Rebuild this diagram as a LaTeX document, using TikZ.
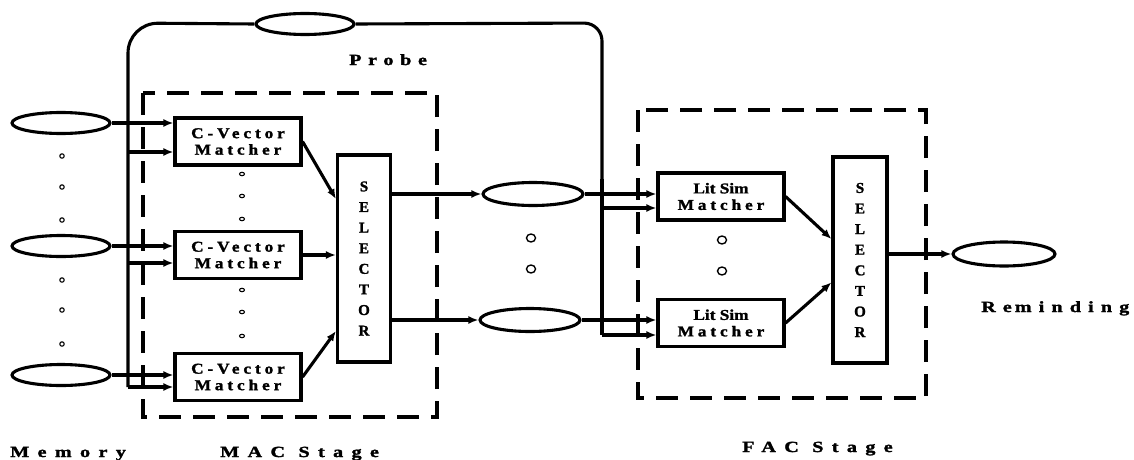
\documentclass[tikz,border=0pt]{standalone}
\usepackage{fontspec}
\setmainfont{Liberation Serif}[BoldFont={Liberation Serif Bold}]
\newfontfamily\fbold{Liberation Serif Bold}[FakeBold=1.5]
\newfontfamily\flit{Liberation Serif Bold}[FakeBold=1.5,FakeStretch=1.15]
\newfontfamily\fsp{Liberation Serif Bold}[LetterSpace=26,FakeBold=1.5,FakeStretch=1.15]
\newfontfamily\flb{Liberation Serif Bold}[LetterSpace=54,FakeBold=1.8,FakeStretch=1.3]
\newfontfamily\flp{Liberation Serif Bold}[LetterSpace=43,FakeBold=1.8,FakeStretch=1.3]
\newfontfamily\flr{Liberation Serif Bold}[LetterSpace=46,FakeBold=1.8,FakeStretch=1.3]
\usetikzlibrary{shapes.geometric,arrows.meta,calc}
\begin{document}
\begin{tikzpicture}[x=1pt,y=-1pt,
  wire/.style={line width=3.1pt},
  arr/.style={line width=3.1pt,-{Latex[length=10pt,width=8pt]}},
  oval/.style={ellipse,draw,line width=3.1pt,minimum width=98pt,minimum height=21pt,inner sep=0pt},
  matcher/.style={rectangle,draw,line width=3.1pt,minimum width=126pt,minimum height=47pt,inner sep=0pt,align=center,font=\fsp\fontsize{15}{16.5}\selectfont},
  selbox/.style={rectangle,draw,line width=3.1pt,minimum width=53pt,minimum height=207pt,inner sep=0pt,align=center,font=\fbold\fontsize{15}{20.6}\selectfont},
  stagebox/.style={line width=3.8pt,dash pattern=on 22pt off 12pt},
  lbl/.style={anchor=base west,inner sep=0pt,font=\flb\fontsize{15.5}{18}\selectfont},
  smalldot/.style={line width=1.1pt},
  bigdot/.style={line width=1.4pt}]
\useasboundingbox (0,0) rectangle (1134,460);

% stage boxes
\draw[stagebox] (143,93) rectangle (437,417);
\draw[stagebox] (638,110) rectangle (926,398);

% memory ellipses
\node[oval] (m1) at (61,123) {};
\node[oval] (m2) at (61,246) {};
\node[oval] (m3) at (61,375) {};
\foreach \y in {156,187,220,280,310,344} \draw[smalldot] (62,\y) circle (2.2pt);

% probe
\node[oval] (probe) at (305,24) {};
\node[lbl,font=\flp\fontsize{15.5}{18}\selectfont] (probelbl) at (349,65) {Probe};

% C-Vector matchers
\node[matcher] (cv1) at (238,141.5) {C-Vector\\Matcher};
\node[matcher] (cv2) at (238,255) {C-Vector\\Matcher};
\node[matcher] (cv3) at (238,377) {C-Vector\\Matcher};
\foreach \y in {174,196,219,290,312,336} \draw[smalldot] (242,\y) ellipse (2.5pt and 1.7pt);

% selector 1
\node[selbox] (sel1) at (364,258.5) {S\\E\\L\\E\\C\\T\\O\\R};

% middle ellipses
\node[oval,minimum width=100pt,minimum height=23pt] (mid1) at (533,194) {};
\node[oval,minimum width=100pt,minimum height=23pt] (mid2) at (530,320) {};
\foreach \y in {238,269} \draw[bigdot] (531,\y) ellipse (4.5pt and 4pt);

% Lit Sim matchers
\node[matcher] (ls1) at (721,196.5) {{\flit\fontsize{15}{16.5}\selectfont Lit Sim}\\Matcher};
\node[matcher] (ls2) at (721,323) {{\flit\fontsize{15}{16.5}\selectfont Lit Sim}\\Matcher};
\foreach \y in {240,271} \draw[bigdot] (722,\y) ellipse (4.5pt and 4pt);

% selector 2
\node[selbox,minimum width=54pt,minimum height=206pt] (sel2) at (860,260) {S\\E\\L\\E\\C\\T\\O\\R};

% reminding ellipse
\node[oval,minimum width=102pt,minimum height=24pt] (rem) at (1004,254) {};

% labels
\node[lbl] (memlbl) at (10,457) {Memory};
\node[lbl] (maclbl) at (220,457) {MAC Stage};
\node[lbl] (faclbl) at (742,452) {FAC Stage};
\node[lbl,font=\flr\fontsize{15.5}{18}\selectfont] (remlbl) at (981,312) {Re\kern3pt minding};

% probe bus
\coordinate (pL) at (128,387);
\coordinate (pTL) at (128,23);
\coordinate (pTR) at (602,23);
\coordinate (pR) at (602,335);
\coordinate (t1) at (128,152);
\coordinate (t2) at (128,263);
\coordinate (r1) at (602,208);
\draw[wire,rounded corners=30pt] (pL) -- (pTL) -- (probe.west);
\draw[wire,rounded corners=18pt] (probe.east) -- (pTR) -- ($(pTR)!0.5!(pR)$);
\draw[wire] ($(pTR)!0.5!(pR)$) -- (pR);
\draw[arr] (t1) -- (t1 -| cv1.west);
\draw[arr] (t2) -- (t2 -| cv2.west);
\draw[arr] (pL) -- (pL -| cv3.west);
\draw[arr] (r1) -- (r1 -| ls1.west);
\draw[arr] (pR) -- (pR -| ls2.west);

% memory to matchers
\draw[arr] (m1.east) -- (m1.east -| cv1.west);
\draw[arr] (m2.east) -- (m2.east -| cv2.west);
\draw[arr] (m3.east) -- (m3.east -| cv3.west);

% matchers to selector 1
\draw[arr] (cv1.east) -- ($(sel1.north west)!0.217!(sel1.south west)$);
\draw[arr] (cv2.east) -- (cv2.east -| sel1.west);
\draw[arr] (cv3.east) -- ($(sel1.north west)!0.845!(sel1.south west)$);

% selector 1 to middle ellipses
\draw[arr] (sel1.east |- mid1.west) -- (mid1.west);
\draw[arr] (sel1.east |- mid2.west) -- (mid2.west);

% middle ellipses to Lit Sim matchers
\draw[arr] (mid1.east) -- (mid1.east -| ls1.west);
\draw[arr] (mid2.east) -- (mid2.east -| ls2.west);

% Lit Sim to selector 2
\draw[arr] (ls1.east) -- ($(sel2.north west)!0.40!(sel2.south west)$);
\draw[arr] (ls2.east) -- ($(sel2.north west)!0.607!(sel2.south west)$);

% selector 2 to reminding
\draw[arr] (sel2.east |- rem.west) -- (rem.west);
\end{tikzpicture}
\end{document}
